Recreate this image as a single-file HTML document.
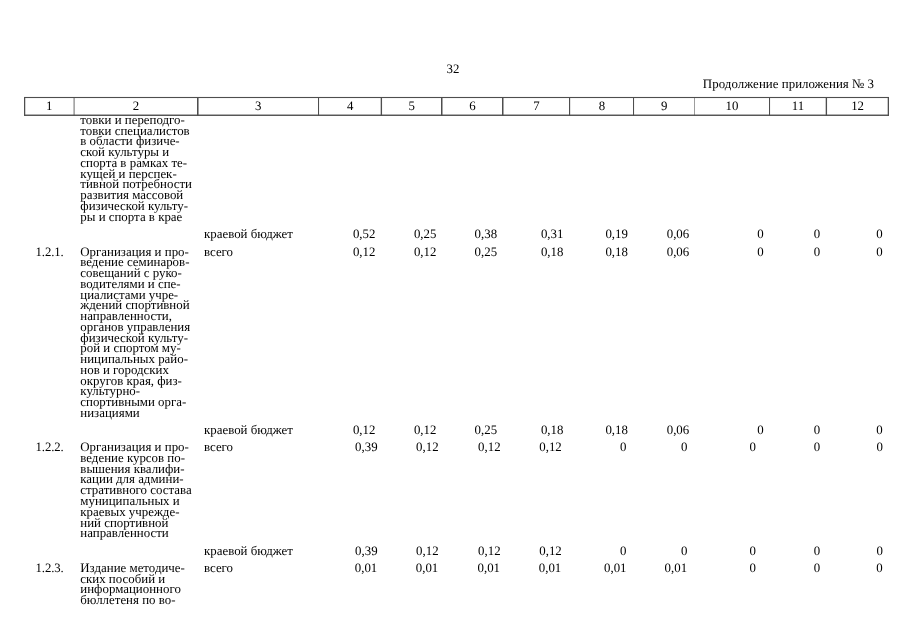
<!DOCTYPE html>
<html><head><meta charset="utf-8"><title>32</title>
<style>
html,body{margin:0;padding:0;background:#fff;}
body{width:905px;height:640px;position:relative;overflow:hidden;font-family:"Liberation Serif",serif;font-size:12.9px;color:#000;will-change:transform;text-rendering:geometricPrecision;}
.t{position:absolute;white-space:nowrap;line-height:10px;height:10px;}
.r{text-align:right;}
.c{text-align:center;}
.ln{position:absolute;}
.d{font-size:12.85px;}

</style></head><body>

<div class="t c d" style="left:423.0px;top:64px;width:60px;">32</div>
<div class="t r" style="left:574.0px;top:79px;width:300px;"><span style="letter-spacing:0.06px">Продолжение</span> приложения № 3</div>
<svg width="905" height="640" style="position:absolute;left:0;top:0" fill="#4e4e4e"><rect x="24" y="96.95" width="865" height="1.1"/><rect x="24" y="114.55" width="865" height="1.4"/><rect x="24.0" y="97" width="1.25" height="18.9"/><rect x="73.65" y="97" width="0.85" height="18.9"/><rect x="197.0" y="97" width="1.55" height="18.9"/><rect x="318.0" y="97" width="1.05" height="18.9"/><rect x="380.7" y="97" width="1.35" height="18.9"/><rect x="441.0" y="97" width="1.5" height="18.9"/><rect x="502.0" y="97" width="1.5" height="18.9"/><rect x="569.0" y="97" width="1.15" height="18.9"/><rect x="633.0" y="97" width="1.05" height="18.9"/><rect x="694.0" y="97" width="0.55" height="18.9"/><rect x="769.0" y="97" width="1.05" height="18.9"/><rect x="825.7" y="97" width="1.35" height="18.9"/><rect x="887.7" y="97" width="1.3" height="18.9"/></svg>
<div class="t c d" style="left:19.2px;top:101px;width:60px;">1</div>
<div class="t c d" style="left:106.0px;top:101px;width:60px;">2</div>
<div class="t c d" style="left:228.2px;top:101px;width:60px;">3</div>
<div class="t c d" style="left:320.1px;top:101px;width:60px;">4</div>
<div class="t c d" style="left:381.7px;top:101px;width:60px;">5</div>
<div class="t c d" style="left:442.4px;top:101px;width:60px;">6</div>
<div class="t c d" style="left:506.5px;top:101px;width:60px;">7</div>
<div class="t c d" style="left:572.0px;top:101px;width:60px;">8</div>
<div class="t c d" style="left:634.2px;top:101px;width:60px;">9</div>
<div class="t c d" style="left:701.9px;top:101px;width:60px;">10</div>
<div class="t c d" style="left:768.0px;top:101px;width:60px;">11</div>
<div class="t c d" style="left:827.6px;top:101px;width:60px;">12</div>
<div class="t" style="left:80.3px;top:115px;">товки и переподго-</div>
<div class="t" style="left:80.3px;top:126px;">товки специалистов</div>
<div class="t" style="left:80.3px;top:136px;">в области физиче-</div>
<div class="t" style="left:80.3px;top:147px;">ской культуры и</div>
<div class="t" style="left:80.3px;top:158px;">спорта в рамках те-</div>
<div class="t" style="left:80.3px;top:169px;">кущей и перспек-</div>
<div class="t" style="left:80.3px;top:179px;">тивной потребности</div>
<div class="t" style="left:80.3px;top:190px;">развития массовой</div>
<div class="t" style="left:80.3px;top:201px;">физической культу-</div>
<div class="t" style="left:80.3px;top:212px;">ры и спорта в крае</div>
<div class="t" style="left:80.3px;top:247px;">Организация и про-</div>
<div class="t" style="left:80.3px;top:257px;">ведение семинаров-</div>
<div class="t" style="left:80.3px;top:268px;">совещаний с руко-</div>
<div class="t" style="left:80.3px;top:279px;">водителями и спе-</div>
<div class="t" style="left:80.3px;top:290px;">циалистами учре-</div>
<div class="t" style="left:80.3px;top:300px;">ждений спортивной</div>
<div class="t" style="left:80.3px;top:311px;">направленности,</div>
<div class="t" style="left:80.3px;top:322px;">органов управления</div>
<div class="t" style="left:80.3px;top:333px;">физической культу-</div>
<div class="t" style="left:80.3px;top:343px;">рой и спортом му-</div>
<div class="t" style="left:80.3px;top:354px;">ниципальных райо-</div>
<div class="t" style="left:80.3px;top:365px;">нов и городских</div>
<div class="t" style="left:80.3px;top:376px;">округов края, физ-</div>
<div class="t" style="left:80.3px;top:386px;">культурно-</div>
<div class="t" style="left:80.3px;top:397px;">спортивными орга-</div>
<div class="t" style="left:80.3px;top:408px;">низациями</div>
<div class="t" style="left:80.3px;top:442px;">Организация и про-</div>
<div class="t" style="left:80.3px;top:453px;">ведение курсов по-</div>
<div class="t" style="left:80.3px;top:464px;">вышения квалифи-</div>
<div class="t" style="left:80.3px;top:474px;">кации для админи-</div>
<div class="t" style="left:80.3px;top:485px;">стративного состава</div>
<div class="t" style="left:80.3px;top:496px;">муниципальных и</div>
<div class="t" style="left:80.3px;top:507px;">краевых учрежде-</div>
<div class="t" style="left:80.3px;top:518px;">ний спортивной</div>
<div class="t" style="left:80.3px;top:528px;">направленности</div>
<div class="t" style="left:80.3px;top:563px;">Издание методиче-</div>
<div class="t" style="left:80.3px;top:574px;">ских пособий и</div>
<div class="t" style="left:80.3px;top:584px;">информационного</div>
<div class="t" style="left:80.3px;top:595px;">бюллетеня по во-</div>
<div class="t" style="left:35.6px;top:247px;"><span style="font-size:12.75px;letter-spacing:-0.1px">1.2.1.</span></div>
<div class="t" style="left:35.6px;top:442px;"><span style="font-size:12.75px;letter-spacing:-0.1px">1.2.2.</span></div>
<div class="t" style="left:35.6px;top:563px;"><span style="font-size:12.75px;letter-spacing:-0.1px">1.2.3.</span></div>
<div class="t" style="left:204.0px;top:229px;">краевой бюджет</div>
<div class="t r d" style="left:315.4px;top:229px;width:60px;">0,52</div>
<div class="t r d" style="left:376.4px;top:229px;width:60px;">0,25</div>
<div class="t r d" style="left:437.1px;top:229px;width:60px;">0,38</div>
<div class="t r d" style="left:503.4px;top:229px;width:60px;">0,31</div>
<div class="t r d" style="left:567.9px;top:229px;width:60px;">0,19</div>
<div class="t r d" style="left:629.2px;top:229px;width:60px;">0,06</div>
<div class="t r d" style="left:703.7px;top:229px;width:60px;">0</div>
<div class="t r d" style="left:760.1px;top:229px;width:60px;">0</div>
<div class="t r d" style="left:822.7px;top:229px;width:60px;">0</div>
<div class="t" style="left:204.0px;top:247px;">всего</div>
<div class="t r d" style="left:315.4px;top:247px;width:60px;">0,12</div>
<div class="t r d" style="left:376.4px;top:247px;width:60px;">0,12</div>
<div class="t r d" style="left:437.1px;top:247px;width:60px;">0,25</div>
<div class="t r d" style="left:503.4px;top:247px;width:60px;">0,18</div>
<div class="t r d" style="left:567.9px;top:247px;width:60px;">0,18</div>
<div class="t r d" style="left:629.2px;top:247px;width:60px;">0,06</div>
<div class="t r d" style="left:703.7px;top:247px;width:60px;">0</div>
<div class="t r d" style="left:760.1px;top:247px;width:60px;">0</div>
<div class="t r d" style="left:822.7px;top:247px;width:60px;">0</div>
<div class="t" style="left:204.0px;top:425px;">краевой бюджет</div>
<div class="t r d" style="left:315.4px;top:425px;width:60px;">0,12</div>
<div class="t r d" style="left:376.4px;top:425px;width:60px;">0,12</div>
<div class="t r d" style="left:437.1px;top:425px;width:60px;">0,25</div>
<div class="t r d" style="left:503.4px;top:425px;width:60px;">0,18</div>
<div class="t r d" style="left:567.9px;top:425px;width:60px;">0,18</div>
<div class="t r d" style="left:629.2px;top:425px;width:60px;">0,06</div>
<div class="t r d" style="left:703.7px;top:425px;width:60px;">0</div>
<div class="t r d" style="left:760.1px;top:425px;width:60px;">0</div>
<div class="t r d" style="left:822.7px;top:425px;width:60px;">0</div>
<div class="t" style="left:204.0px;top:442px;">всего</div>
<div class="t r d" style="left:317.6px;top:442px;width:60px;">0,39</div>
<div class="t r d" style="left:378.6px;top:442px;width:60px;">0,12</div>
<div class="t r d" style="left:440.6px;top:442px;width:60px;">0,12</div>
<div class="t r d" style="left:501.8px;top:442px;width:60px;">0,12</div>
<div class="t r d" style="left:566.3px;top:442px;width:60px;">0</div>
<div class="t r d" style="left:627.3px;top:442px;width:60px;">0</div>
<div class="t r d" style="left:695.9px;top:442px;width:60px;">0</div>
<div class="t r d" style="left:760.2px;top:442px;width:60px;">0</div>
<div class="t r d" style="left:822.8px;top:442px;width:60px;">0</div>
<div class="t" style="left:204.0px;top:546px;">краевой бюджет</div>
<div class="t r d" style="left:317.6px;top:546px;width:60px;">0,39</div>
<div class="t r d" style="left:378.6px;top:546px;width:60px;">0,12</div>
<div class="t r d" style="left:440.6px;top:546px;width:60px;">0,12</div>
<div class="t r d" style="left:501.8px;top:546px;width:60px;">0,12</div>
<div class="t r d" style="left:566.3px;top:546px;width:60px;">0</div>
<div class="t r d" style="left:627.3px;top:546px;width:60px;">0</div>
<div class="t r d" style="left:695.9px;top:546px;width:60px;">0</div>
<div class="t r d" style="left:760.2px;top:546px;width:60px;">0</div>
<div class="t r d" style="left:822.8px;top:546px;width:60px;">0</div>
<div class="t" style="left:204.0px;top:563px;">всего</div>
<div class="t r d" style="left:317.3px;top:563px;width:60px;">0,01</div>
<div class="t r d" style="left:378.3px;top:563px;width:60px;">0,01</div>
<div class="t r d" style="left:440.0px;top:563px;width:60px;">0,01</div>
<div class="t r d" style="left:501.3px;top:563px;width:60px;">0,01</div>
<div class="t r d" style="left:566.5px;top:563px;width:60px;">0,01</div>
<div class="t r d" style="left:627.1px;top:563px;width:60px;">0,01</div>
<div class="t r d" style="left:695.8px;top:563px;width:60px;">0</div>
<div class="t r d" style="left:760.1px;top:563px;width:60px;">0</div>
<div class="t r d" style="left:822.7px;top:563px;width:60px;">0</div>
</body></html>
